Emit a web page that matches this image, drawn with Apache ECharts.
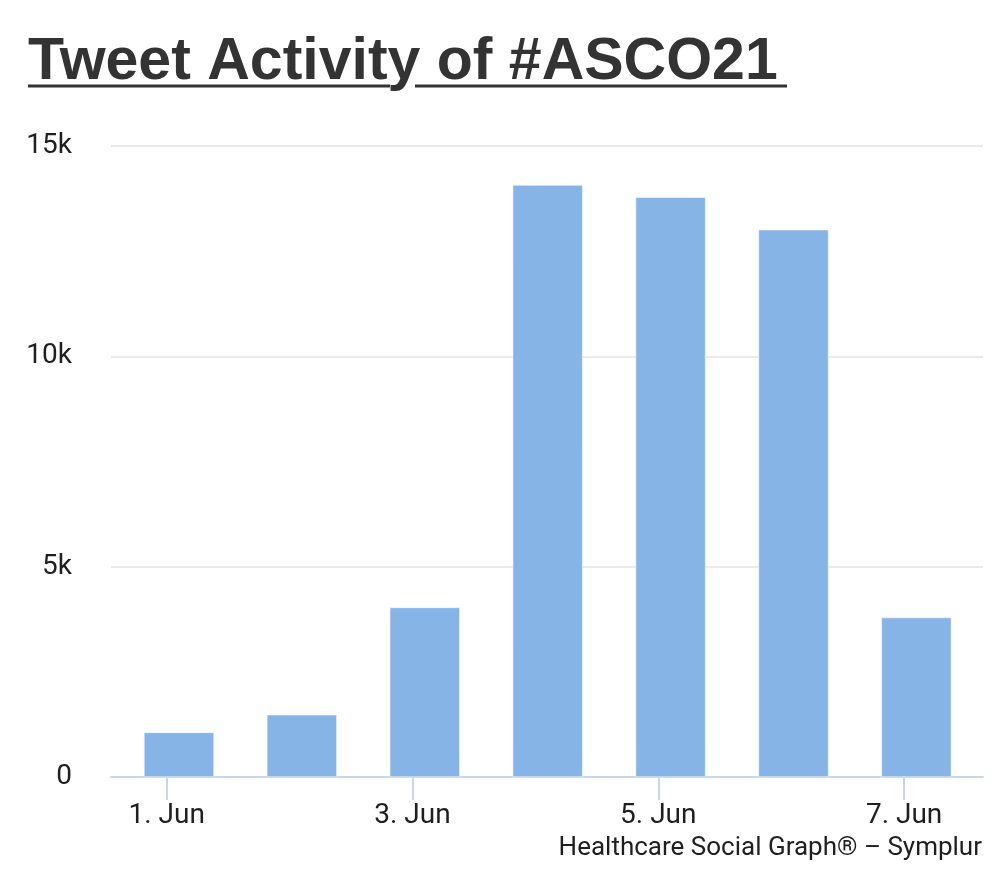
<!DOCTYPE html>
<html>
<head>
<meta charset="utf-8">
<script src="https://cdn.jsdelivr.net/npm/echarts@6/dist/echarts.min.js"></script>
<style>
  html, body { margin: 0; padding: 0; background: #ffffff; }
  #chart { width: 1000px; height: 882px; }
</style>
</head>
<body>
<div id="chart"></div>
<script>
// ---- data ----
const categories = ['1. Jun', '2. Jun', '3. Jun', '4. Jun', '5. Jun', '6. Jun', '7. Jun'];
const tweets = [1060, 1480, 4030, 14070, 13780, 13010, 3790];
const yTickValues = [0, 5000, 10000, 15000];
const yTickLabels = ['0', '5k', '10k', '15k'];
const labelledDays = ['1. Jun', '3. Jun', '5. Jun', '7. Jun'];
const titleText = 'Tweet Activity of #ASCO21';
const creditText = 'Healthcare Social Graph\u00AE \u2013 Symplur';

// ---- build ----
const dayPos = categories.map((c, i) => i + 1);          // tick position of each day
const barShift = 0.1;                                     // bars sit slightly after the day tick
const barData = tweets.map((v, i) => [dayPos[i] + barShift, v]);
const labelPos = labelledDays.map(d => dayPos[categories.indexOf(d)]);

const chart = echarts.init(document.getElementById('chart'), null, { renderer: 'canvas' });
const axisColor = '#ccd6eb';
const textColor = '#1f1f1f';
const font = 'Roboto, "Liberation Sans", sans-serif';

chart.setOption({
  animation: false,
  backgroundColor: '#ffffff',
  grid: { left: 111, right: 17, top: 146, bottom: 105, containLabel: false },
  xAxis: {
    type: 'value',
    min: 0.547,
    max: 7.642,
    splitLine: { show: false },
    axisLine: { show: true, lineStyle: { color: axisColor, width: 2 } },
    axisTick: { show: true, length: 23, customValues: labelPos, lineStyle: { color: axisColor, width: 2 } },
    axisLabel: {
      show: true,
      customValues: labelPos,
      margin: 25,
      color: textColor,
      fontFamily: font,
      fontSize: 28,
      formatter: v => categories[Math.round(v) - 1]
    }
  },
  yAxis: {
    type: 'value',
    min: 0,
    max: 15000,
    interval: 5000,
    axisLine: { show: false },
    axisTick: { show: false },
    splitLine: { show: true, lineStyle: { color: '#e3e3e3', width: 1.5 } },
    axisLabel: {
      margin: 39,
      color: textColor,
      fontFamily: font,
      fontSize: 28,
      formatter: v => yTickLabels[yTickValues.indexOf(v)]
    }
  },
  series: [{
    type: 'bar',
    data: barData,
    barWidth: 70,
    itemStyle: { color: '#87b4e6', borderColor: '#ffffff', borderWidth: 0.5 },
    z: 3
  }],
  graphic: [
    {
      type: 'text',
      left: 28,
      top: 33,
      style: {
        text: titleText,
        fill: '#333333',
        font: 'bold 59px "Liberation Sans", Arial, sans-serif'
      }
    },
    { type: 'rect', shape: { x: 28, y: 84.5, width: 362, height: 3 }, style: { fill: '#333333' } },
    { type: 'rect', shape: { x: 415, y: 84.5, width: 372, height: 3 }, style: { fill: '#333333' } },
    {
      type: 'text',
      right: 18,
      top: 835,
      style: {
        text: creditText,
        fill: textColor,
        font: '26px Roboto, "Liberation Sans", sans-serif'
      }
    }
  ]
});
</script>
</body>
</html>
